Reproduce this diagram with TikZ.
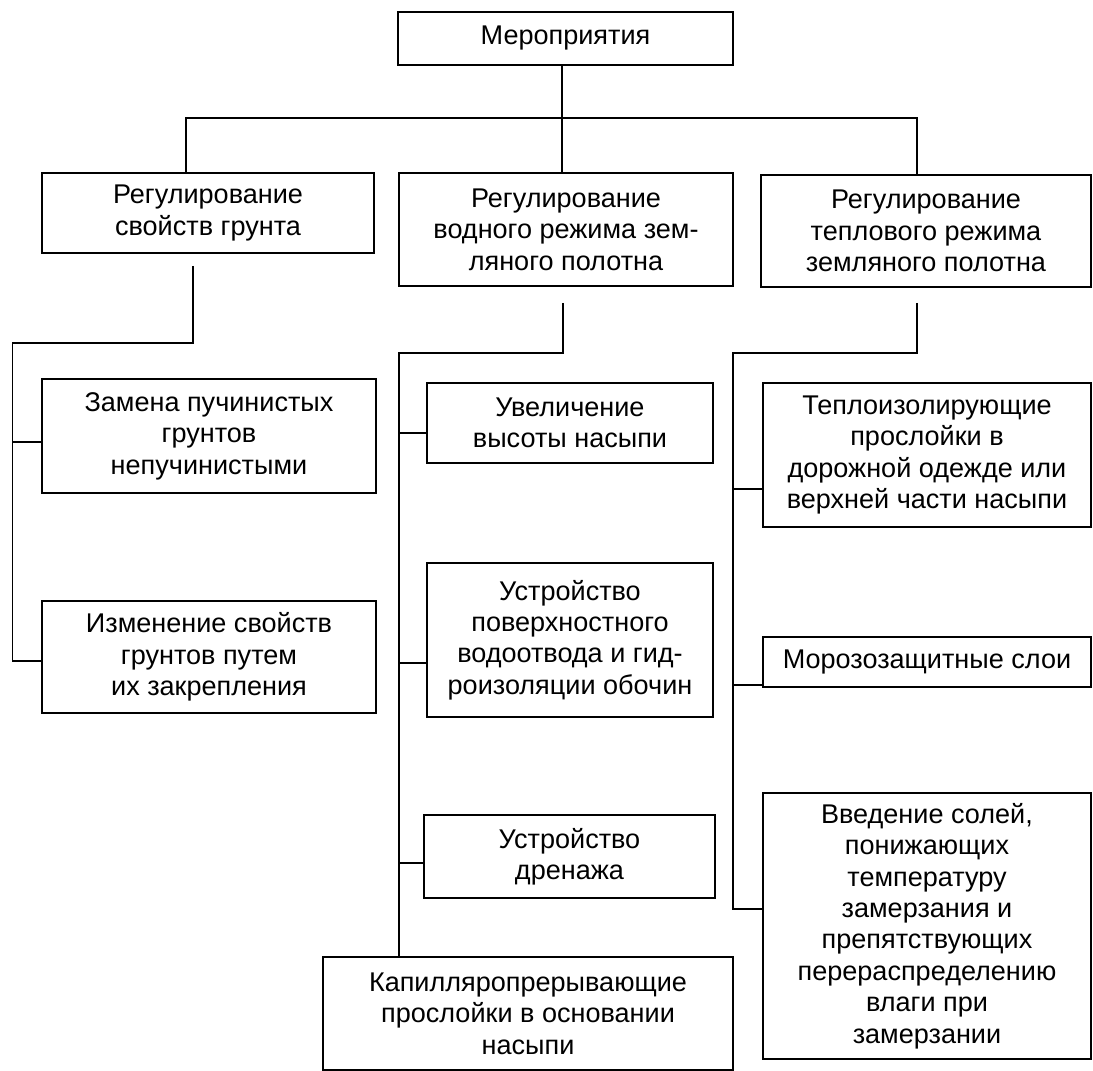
\documentclass[tikz,border=0pt]{standalone}
\usepackage{fontspec}
\setmainfont{Liberation Sans}
\begin{document}
\begin{tikzpicture}[x=0.02cm, y=-0.02cm, line width=0.9pt,
    box/.style={draw, align=center, inner sep=0pt, font=\fontsize{15.4}{17.9}\selectfont}]
    \useasboundingbox (0,0) rectangle (1093,1071);

    % Top box
    \node[box, minimum width=6.70cm, minimum height=1.06cm] (top) at (565.5,38.5) {Мероприятия};

    % First level
    \node[box, minimum width=6.64cm, minimum height=1.60cm] (l1) at (208,213) {Регулирование\\свойств грунта};
    \node[box, minimum width=6.68cm, minimum height=2.26cm] (m1) at (566,229.5) {Регулирование\\водного режима зем-\\ляного полотна};
    \node[box, minimum width=6.60cm, minimum height=2.24cm] (r1) at (926,231) {Регулирование\\теплового режима\\земляного полотна};

    % Left column
    \node[box, minimum width=6.68cm, minimum height=2.28cm] (l2) at (209,436) {Замена пучинистых\\грунтов\\непучинистыми};
    \node[box, minimum width=6.68cm, minimum height=2.24cm] (l3) at (209,657) {Изменение свойств\\грунтов путем\\их закрепления};

    % Middle column
    \node[box, minimum width=5.72cm, minimum height=1.60cm] (m2) at (570,423) {Увеличение\\высоты насыпи};
    \node[box, minimum width=5.72cm, minimum height=3.08cm] (m3) at (570,640) {Устройство\\поверхностного\\водоотвода и гид-\\роизоляции обочин};
    \node[box, minimum width=5.82cm, minimum height=1.66cm] (m4) at (569.5,856.5) {Устройство\\дренажа};
    \node[box, minimum width=8.20cm, minimum height=2.26cm] (m5) at (528,1013.5) {Капилляропрерывающие\\прослойки в основании\\насыпи};

    % Right column
    \node[box, minimum width=6.56cm, minimum height=2.88cm] (r2) at (927,455) {Теплоизолирующие\\прослойки в\\дорожной одежде или\\верхней части насыпи};
    \node[box, minimum width=6.56cm, minimum height=1.00cm] (r3) at (927,662) {Морозозащитные слои};
    \node[box, minimum width=6.56cm, minimum height=5.32cm] (r4) at (927,926) {Введение солей,\\понижающих\\температуру\\замерзания и\\препятствующих\\перераспределению\\влаги при\\замерзании};

    % Lines from the top box
    \draw (top.south -| 562,0) -- (m1.north -| 562,0);
    \coordinate (busL) at (186,118);
    \coordinate (busR) at (917,118);
    \draw (busL |- l1.north) -- (busL) -- (busR) -- (busR |- r1.north);

    % Left branch
    \coordinate (lj) at (12.5,343);
    \draw (l1.south -| 193,0) ++(0,12) |- (lj) |- (l3.west |- 0,661);
    \draw (lj |- 0,442) -- (l2.west |- 0,442);

    % Middle branch
    \coordinate (mj) at (399,353);
    \draw (m1.south -| 563,0) ++(0,16) |- (mj) -- (mj |- m5.north);
    \draw (mj |- 0,433) -- (m2.west |- 0,433);
    \draw (mj |- 0,663) -- (m3.west |- 0,663);
    \draw (mj |- 0,863) -- (m4.west |- 0,863);

    % Right branch
    \coordinate (rj) at (733,353);
    \draw (r1.south -| 917,0) ++(0,15) |- (rj) |- (r4.west |- 0,909);
    \draw (rj |- 0,489) -- (r2.west |- 0,489);
    \draw (rj |- 0,685) -- (r3.west |- 0,685);
\end{tikzpicture}
\end{document}
